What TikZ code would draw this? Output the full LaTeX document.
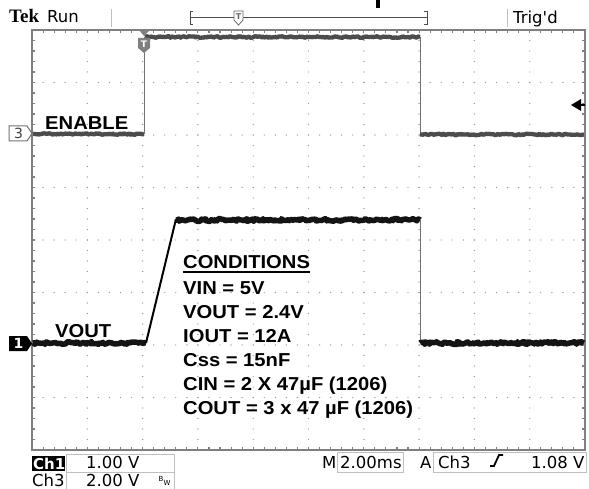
\documentclass[tikz,border=0pt]{standalone}
\usepackage{fontspec}
\usetikzlibrary{decorations.pathmorphing}
\newfontfamily\scrfont{DejaVu Sans}
\newfontfamily\lblfont{Liberation Sans}[FakeStretch=1.08]
\newfontfamily\tekfont{Liberation Serif}
\tikzset{
  scr_txt/.style = {inner sep=0pt, anchor=base west,
    font=\scrfont\fontsize{16.5}{18}\selectfont},
  lbl_txt/.style = {inner sep=0pt, anchor=base west,
    font=\lblfont\bfseries\fontsize{18.7}{22}\selectfont},
  grid_dot/.style = {fill=black!40},
  frame_ln/.style = {draw=black!50, line width=1.1pt},
  ro_box/.style = {draw=black!25, line width=1pt},
  edge_ln/.style = {draw=black!55, line width=1pt},
  trace_en/.style = {draw=black!70, line width=4.3pt, line join=round,
    decorate, decoration={random steps, segment length=1.5pt, amplitude=0.8pt}},
  trace_vo/.style = {draw=black!92, line width=5.5pt, line join=round,
    decorate, decoration={random steps, segment length=1.5pt, amplitude=1.4pt}}
}

\begin{document}
\begin{tikzpicture}[x=1pt,y=-1pt]
\pgfmathsetseed{11}
\useasboundingbox (0,0) rectangle (589,489);
\fill[white] (0,0) rectangle (589,489);

% graticule
\foreach \i in {1,...,9}
  \foreach \k in {1,...,39}
    \fill[grid_dot] ({32+\i*55.3},{30+\k*10.5}) circle (0.7pt);
\foreach \j in {1,...,7}
  \foreach \k in {1,...,49}
    \fill[grid_dot] ({32+\k*11.06},{30+\j*52.5}) circle (0.7pt);
\foreach \k in {1,...,49} {
  \draw[frame_ln] ({32+\k*11.06},30) -- ++(0,3);
  \draw[frame_ln] ({32+\k*11.06},450) -- ++(0,-3);
}
\foreach \k in {1,...,39} {
  \draw[frame_ln] (32,{30+\k*10.5}) -- ++(3,0);
  \draw[frame_ln] (585,{30+\k*10.5}) -- ++(-3,0);
}
\draw[frame_ln] (32,30) rectangle (585,450);

% traces
\draw[edge_ln] (144,134) -- (144,37);
\draw[edge_ln] (420,37) -- (420,134);
\draw[edge_ln] (420,220) -- (420,343);
\draw[trace_en] (33,134) -- (144,134);
\draw[trace_en] (145,37) -- (420,37);
\draw[trace_en] (420,134.5) -- (584,134.5);
\draw[trace_vo] (33,343) -- (146,343);
\draw[black, line width=2pt] (146,343) -- (176,219);
\draw[trace_vo] (176,220) -- (420,220);
\draw[trace_vo] (420,343) -- (584,343);

% markers
\fill[black!50] (139,30) -- (150,30) -- (144,36) -- cycle;
\fill[black!50] (138,38) -- (150,38) -- (150,48) -- (144,53) -- (138,48) -- cycle;
\node[inner sep=0pt, text=white, font=\scrfont\bfseries\fontsize{9}{9}\selectfont] (trg_t) at (144,44) {T};
\draw[draw=black!55, fill=white, line width=1pt]
  (9,126) -- (27,126) -- (32,133.5) -- (27,141) -- (9,141) -- cycle;
\node[inner sep=0pt, text=black!75, font=\scrfont\fontsize{14}{14}\selectfont] (mk_3) at (18.5,133.5) {3};
\fill[black] (9,336) -- (27,336) -- (32,343.5) -- (27,351) -- (9,351) -- cycle;
\node[inner sep=0pt, text=white, font=\scrfont\bfseries\fontsize{14}{14}\selectfont] (mk_1) at (18.5,343.5) {1};
\fill[black] (571,105) -- (581,99) -- (581,111) -- cycle;
\draw[black, line width=2pt] (580,105) -- (585,105);

% labels
\node[lbl_txt] (enable) at (45,130) {ENABLE};
\node[lbl_txt] (vout) at (55,337) {VOUT};
\node[lbl_txt] (cond) at (183,268) {CONDITIONS};
\draw[black, line width=2.5pt] ([yshift=-4pt]cond.base west) -- ([yshift=-4pt]cond.base east);
\foreach \txt [count=\n from 0] in {VIN = 5V, VOUT = 2.4V, IOUT = 12A, Css = 15nF,
    CIN = 2 X 47µF (1206), COUT = 3 x 47 µF (1206)}
  \node[lbl_txt] (cond_\n) at (183,{294+\n*24}) {\txt};

% top bar
\node[inner sep=0pt, anchor=base west, font=\tekfont\bfseries\fontsize{19}{20}\selectfont] (tek) at (9,23) {Tek};
\node[scr_txt] (run) at (47,23) {Run};
\draw[ro_box] (111,9) -- (111,27);
\draw[black!70, line width=1pt] (193,12) -- (190,12) -- (190,25) -- (193,25);
\draw[black!70, line width=1pt] (190,18) -- (427,18);
\draw[black!70, line width=1pt] (424,12) -- (427,12) -- (427,25) -- (424,25);
\draw[draw=black!60, fill=white, line width=0.8pt]
  (234,11) -- (243,11) -- (243,20) -- (238.5,25) -- (234,20) -- cycle;
\node[inner sep=0pt, text=black!60, font=\scrfont\bfseries\fontsize{8}{8}\selectfont] (rec_t) at (238.5,17) {T};
\fill[black] (376,0) rectangle (380,8);
\draw[ro_box] (507,9) -- (507,27);
\node[scr_txt] (trigd) at (513,24) {Trig'd};

% readout
\fill[black] (32,456) rectangle (65,471);
\node[scr_txt, text=white, font=\scrfont\bfseries\fontsize{15}{16}\selectfont] (ch1) at (33,469) {Ch1};
\draw[ro_box] (66,454) rectangle (174,472);
\node[scr_txt] (ch1_v) at (86,468) {1.00 V};
\node[scr_txt] (ch3) at (32,486) {Ch3};
\draw[ro_box] (66,472) rectangle (174,490);
\node[scr_txt] (ch3_v) at (86,486) {2.00 V};
\node[inner sep=0pt, font=\scrfont\fontsize{7}{7}\selectfont] (bw_b) at (161,479) {B};
\node[inner sep=0pt, font=\scrfont\fontsize{7}{7}\selectfont] (bw_w) at (167,483) {W};
\node[scr_txt] (m_lbl) at (322,468) {M};
\draw[ro_box] (337,452) rectangle (403,472);
\node[scr_txt] (tdiv) at (340,468) {2.00ms};
\node[scr_txt] (a_lbl) at (420,468) {A};
\draw[ro_box] (433,452) rectangle (586,472);
\node[scr_txt] (trg_src) at (438,468) {Ch3};
\draw[black, line width=1.8pt] (490,466) -- (494,466) -- (499,455) -- (503,455);
\node[scr_txt] (trg_lev) at (531,468) {1.08 V};
\end{tikzpicture}
\end{document}
